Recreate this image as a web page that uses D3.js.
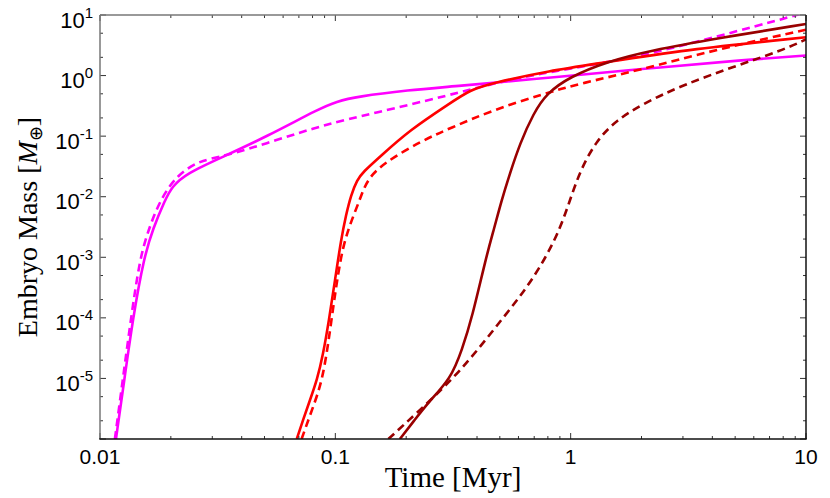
<!DOCTYPE html>
<html>
<head>
<meta charset="utf-8">
<script src="https://cdn.jsdelivr.net/npm/d3@7"></script>
<style>
  html, body { margin: 0; padding: 0; background: #fff; }
  svg { display: block; }
</style>
</head>
<body>
<svg id="chart" width="830" height="498"></svg>
<script>
// ---------- data ----------
const xTickValues = [0.01, 0.1, 1, 10];
const xTickLabels = ["0.01", "0.1", "1", "10"];
const yTickExponents = [1, 0, -1, -2, -3, -4, -5];

const magentaSolidT = [0.01169, 0.01271, 0.01381, 0.01538, 0.0168, 0.0189, 0.0202, 0.0233, 0.0334, 0.051, 0.086, 0.101, 0.123, 0.207, 0.307, 0.90, 2.17, 5.42, 10];
const magentaSolidM = [1e-6, 1e-5, 1e-4, 1e-3, 3e-3, 0.0088, 0.0146, 0.0243, 0.0458, 0.098, 0.288, 0.371, 0.448, 0.578, 0.655, 0.957, 1.32, 1.81, 2.15];

const magentaDashT = [0.01157, 0.01252, 0.01355, 0.01479, 0.01615, 0.018, 0.0212, 0.0266, 0.0334, 0.0564, 0.089, 0.145, 0.307, 0.468, 0.817, 1.84, 4.18, 8.8, 10];
const magentaDashM = [1e-6, 1e-5, 1e-4, 1e-3, 3e-3, 0.0088, 0.0228, 0.040, 0.0458, 0.086, 0.153, 0.238, 0.477, 0.745, 1.16, 1.93, 4.39, 9.6, 11];

const redSolidT = [0.06855, 0.07288, 0.07805, 0.0836, 0.08865, 0.09401, 0.0997, 0.1057, 0.111, 0.1166, 0.1237, 0.1311, 0.155, 0.207, 0.307, 0.373, 0.468, 0.817, 1.33, 3.0, 10];
const redSolidM = [1e-6, 2.06e-6, 4.4e-6, 9.42e-6, 2.435e-5, 9.22e-5, 4.22e-4, 1.93e-3, 4.99e-3, 0.01067, 0.01887, 0.0256, 0.046, 0.126, 0.348, 0.578, 0.76, 1.2, 1.6, 2.64, 4.3];

const redDashT = [0.0719, 0.0795, 0.089, 0.0965, 0.105, 0.1135, 0.127, 0.136, 0.16, 0.236, 0.307, 0.468, 0.766, 1.13, 1.91, 4.18, 10];
const redDashM = [1e-6, 3e-6, 1e-5, 1e-4, 1e-3, 3e-3, 0.0088, 0.0189, 0.036, 0.086, 0.135, 0.27, 0.50, 0.76, 1.2, 2.71, 5.7];

const darkSolidT = [0.188, 0.216, 0.2477, 0.3102, 0.3455, 0.381, 0.437, 0.473, 0.509, 0.552, 0.609, 0.695, 0.79, 0.994, 1.42, 2.17, 4.18, 10];
const darkSolidM = [1e-6, 2e-6, 4e-6, 1e-5, 3e-5, 1e-4, 1e-3, 3e-3, 0.0088, 0.0243, 0.076, 0.238, 0.51, 0.957, 1.69, 2.58, 4.12, 7.1];

const darkDashT = [0.168, 0.229, 0.3168, 0.404, 0.516, 0.646, 0.786, 0.902, 0.994, 1.10, 1.29, 1.57, 2.04, 3.0, 4.92, 8.0, 10];
const darkDashM = [1e-6, 3e-6, 1e-5, 3e-5, 1e-4, 3e-4, 1e-3, 3e-3, 0.0088, 0.0276, 0.086, 0.185, 0.348, 0.698, 1.4, 2.64, 3.96];

const seriesList = [
  { t: magentaSolidT, m: magentaSolidM, color: "#ff00ff", dash: null },
  { t: magentaDashT,  m: magentaDashM,  color: "#ff00ff", dash: "8,5" },
  { t: redSolidT,     m: redSolidM,     color: "#ff0000", dash: null },
  { t: redDashT,      m: redDashM,      color: "#ff0000", dash: "8,5" },
  { t: darkSolidT,    m: darkSolidM,    color: "#990000", dash: null },
  { t: darkDashT,     m: darkDashM,     color: "#990000", dash: "8,5" }
];

// ---------- layout ----------
const L = 100, R = 806, T = 15, B = 439;
const svg = d3.select("#chart");
const x = d3.scaleLog().domain([0.01, 10]).range([L, R]);
const y = d3.scaleLog().domain([1e-6, 10]).range([B, T]);

svg.append("defs").append("clipPath").attr("id", "clip")
  .append("rect").attr("x", L).attr("y", T).attr("width", R - L).attr("height", B - T);

// ---------- curves ----------
const line = d3.line()
  .x(d => x(d[0])).y(d => y(d[1]))
  .curve(d3.curveBasis);

const g = svg.append("g").attr("clip-path", "url(#clip)");
seriesList.forEach(s => {
  const pts = s.t.map((t, i) => [t, s.m[i]]);
  g.append("path")
    .attr("d", line(pts))
    .attr("fill", "none")
    .attr("stroke", s.color)
    .attr("stroke-width", 2.6)
    .attr("stroke-dasharray", s.dash)
    .attr("stroke-linejoin", "round");
});

// ---------- axes (ticks) ----------
const xMinor = [];
for (let d = 0.01; d < 10; d *= 10) for (let k = 2; k <= 9; k++) xMinor.push(+(d * k).toPrecision(3));
const yMinor = [];
for (let e = -6; e < 1; e++) [2, 5].forEach(k => yMinor.push(k * Math.pow(10, e)));
const yMajor = yTickExponents.map(e => Math.pow(10, e)).concat([1e-6]);

const tickColor = "#333";
const axisG = svg.append("g");
function tick(x1, y1, x2, y2) {
  axisG.append("line").attr("x1", x1).attr("x2", x2).attr("y1", y1).attr("y2", y2)
    .attr("stroke", tickColor).attr("stroke-width", 1);
}
xTickValues.forEach(v => { tick(x(v), B, x(v), B - 6); tick(x(v), T, x(v), T + 6); });
xMinor.forEach(v => { tick(x(v), B, x(v), B - 3); tick(x(v), T, x(v), T + 3); });
yMajor.forEach(v => { tick(L, y(v), L + 6, y(v)); tick(R, y(v), R - 6, y(v)); });
yMinor.forEach(v => { tick(L, y(v), L + 3, y(v)); tick(R, y(v), R - 3, y(v)); });

// frame
axisG.append("line").attr("x1", L).attr("x2", R).attr("y1", T).attr("y2", T).attr("stroke", "#777").attr("stroke-width", 1.5);
axisG.append("line").attr("x1", L).attr("x2", L).attr("y1", T).attr("y2", B).attr("stroke", "#777").attr("stroke-width", 1.5);
axisG.append("line").attr("x1", L - 0.75).attr("x2", R + 0.75).attr("y1", B).attr("y2", B).attr("stroke", "#111").attr("stroke-width", 1.5);
axisG.append("line").attr("x1", R).attr("x2", R).attr("y1", T).attr("y2", B).attr("stroke", "#111").attr("stroke-width", 1.5);

// ---------- tick labels ----------
const sans = "'Liberation Sans', Arial, Helvetica, sans-serif";
xTickValues.forEach((v, i) => {
  svg.append("text").attr("x", x(v)).attr("y", 464)
    .attr("text-anchor", "middle").attr("font-family", sans).attr("font-size", 21)
    .attr("fill", "#000").text(xTickLabels[i]);
});
yTickExponents.forEach(e => {
  const t = svg.append("text").attr("x", 93).attr("y", y(Math.pow(10, e)) + 12.5)
    .attr("text-anchor", "end").attr("font-family", sans).attr("font-size", 22).attr("fill", "#000");
  t.append("tspan").text("10");
  t.append("tspan").attr("font-size", 15).attr("dy", -10).text(String(e));
});

// ---------- axis titles ----------
const serif = "'Liberation Serif', 'Times New Roman', Times, serif";
svg.append("text").attr("x", (L + R) / 2).attr("y", 487)
  .attr("text-anchor", "middle").attr("font-family", serif).attr("font-size", 29).attr("fill", "#000")
  .text("Time [Myr]");

const yt = svg.append("text")
  .attr("transform", `translate(37,${(T + B) / 2}) rotate(-90)`)
  .attr("text-anchor", "middle").attr("font-family", serif).attr("font-size", 28).attr("fill", "#000");
yt.append("tspan").text("Embryo Mass [");
yt.append("tspan").attr("font-style", "italic").text("M");
yt.append("tspan").attr("font-size", 18).attr("dy", 5).text("⊕");
yt.append("tspan").attr("dy", -5).text("]");
</script>
</body>
</html>
